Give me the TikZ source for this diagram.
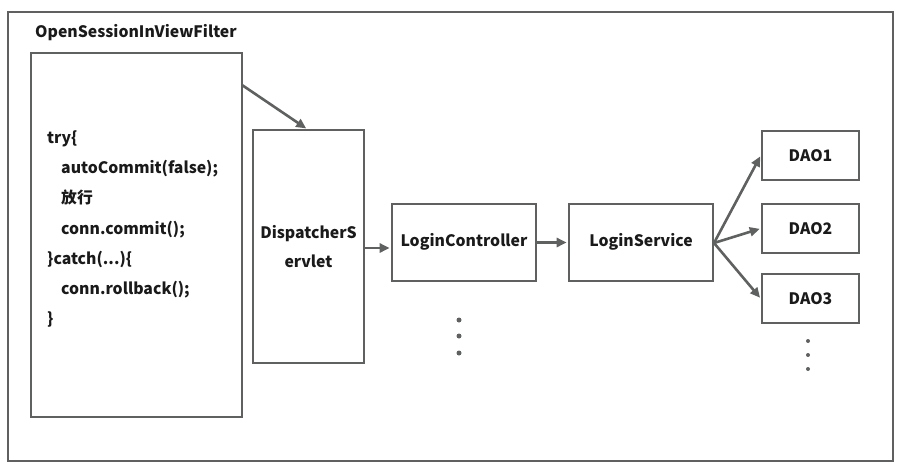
\documentclass[tikz,border=0pt]{standalone}
\usepackage{fontspec}
\setmainfont{Noto Sans CJK SC}
\usetikzlibrary{arrows.meta}
\definecolor{lc}{HTML}{5F6060}
\definecolor{tc}{HTML}{1A1A1A}
\tikzset{
  box/.style={draw=lc, line width=2.6pt, rectangle, inner sep=0pt},
  lbl/.style={font=\fontsize{15.8}{18}\selectfont\bfseries, text=tc, inner sep=0pt},
  conn/.style={draw=lc, line width=2.6pt, -{Triangle[length=10pt,width=9pt]}, shorten >=1pt},
  dotc/.style={fill=lc, circle, inner sep=0pt, minimum size=5pt}
}
\begin{document}
\begin{tikzpicture}[x=1pt,y=-1pt]
\useasboundingbox (0,0) rectangle (901,468);
\node[box, minimum width=885pt, minimum height=449pt] (frame) at (450.5,236.5) {};
\node[lbl, anchor=west] (title) at (35,33) {OpenSessionInViewFilter};
\node[box, minimum width=211pt, minimum height=364pt] (filter) at (136.5,235) {};
\node[lbl, anchor=west, align=left, font=\fontsize{15.8}{30.3}\selectfont\bfseries] (code) at (47,229)
 {try\{\\\hspace*{14pt}autoCommit(false);\\\hspace*{14pt}放行\\\hspace*{14pt}conn.commit();\\\}catch(...)\{\\\hspace*{14pt}conn.rollback();\\\}};
\node[box, minimum width=111pt, minimum height=233pt] (disp) at (308.5,246.5) {};
\node[lbl, align=center, font=\fontsize{15.8}{29}\selectfont\bfseries] (disptext) at (308.5,247) {DispatcherS\\ervlet};
\node[box, minimum width=144pt, minimum height=77pt] (ctrl) at (464,242.5) {};
\node[lbl] (ctrltext) at (464,242) {LoginController};
\node[box, minimum width=144pt, minimum height=77pt] (svc) at (641,242.5) {};
\node[lbl] (svctext) at (641,242) {LoginService};
\node[box, minimum width=97pt, minimum height=49pt] (dao1) at (810.5,155.5) {};
\node[lbl] at (810.5,156) {DAO1};
\node[box, minimum width=97pt, minimum height=49pt] (dao2) at (810.5,228.5) {};
\node[lbl] at (810.5,229) {DAO2};
\node[box, minimum width=97pt, minimum height=49pt] (dao3) at (810.5,298.5) {};
\node[lbl] at (810.5,299) {DAO3};
\coordinate (fs) at (242,85);
\coordinate (dt) at (307,129);
\draw[conn] (fs) -- (dt);
\draw[conn] (disp.east |- 0,248) -- (ctrl.west |- 0,248);
\draw[conn] (ctrl.east) -- (svc.west);
\coordinate (so) at (714,243);
\draw[conn] (so) -- (dao1.west);
\draw[conn] (so) -- (dao2.west);
\draw[conn] (so) -- (dao3.west);
\node[dotc] (d1) at (459,320) {};
\node[dotc] (d2) at (459,336) {};
\node[dotc] (d3) at (459,353) {};
\node[dotc, minimum size=4pt] (e1) at (808,341) {};
\node[dotc, minimum size=4pt] (e2) at (808,355) {};
\node[dotc, minimum size=4pt] (e3) at (808,369) {};
\end{tikzpicture}
\end{document}
